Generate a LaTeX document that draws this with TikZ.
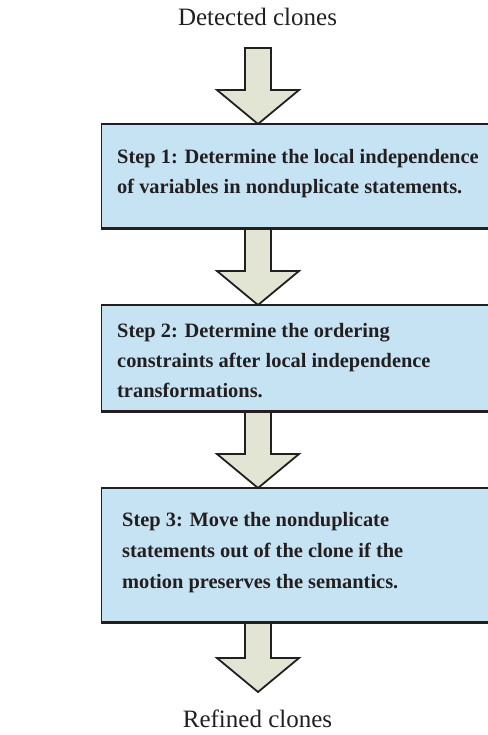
\documentclass[tikz,border=0pt]{standalone}
\usepackage{fontspec}
\setmainfont{Liberation Serif}
\usetikzlibrary{calc}

\definecolor{ink}{RGB}{35,31,32}
\definecolor{boxfill}{RGB}{198,227,244}
\definecolor{arrowfill}{RGB}{227,229,212}

\tikzset{
  flowlabel/.style={font=\fontsize{25}{30}\selectfont, text=ink, inner sep=0pt, anchor=base},
  stepbox/.style={fill=boxfill, draw=none, inner sep=0pt, anchor=north west, minimum width=420pt},
  steptext/.style={font=\fontsize{20.4}{30}\selectfont\bfseries, text=ink, inner sep=0pt,
                   anchor=north west, align=left},
  rim/.style={draw=ink, line width=2.6pt},
  side/.style={draw=ink, line width=1pt},
  fatarrow/.style={draw=ink, fill=arrowfill, line width=1.8pt, line join=miter},
}

% block arrow: shaft starts at the height of #1, tip at #2
\newcommand\blockarrow[2]{%
  \path[fatarrow] let \p1=(#1), \p2=(#2) in
    (\x2-13pt,\y1) -- (\x2+13pt,\y1) -- (\x2+13pt,\y2+34pt) -- (\x2+41pt,\y2+34pt)
    -- (\x2,\y2) -- (\x2-41pt,\y2+34pt) -- (\x2-13pt,\y2+34pt) -- cycle;}

\begin{document}
\begin{tikzpicture}[x=1pt, y=-1pt]
  \useasboundingbox (0,0) rectangle (487,735);

  % input / output labels
  \node[flowlabel] (in)  at (257.5,26)  {Detected clones};
  \node[flowlabel] (out) at (257.5,727) {Refined clones};

  % step boxes (open on the right)
  \node[stepbox, minimum height=104pt] (b1) at (101,124) {};
  \node[stepbox, minimum height=106pt] (b2) at (101,305) {};
  \node[stepbox, minimum height=134pt] (b3) at (101,488) {};

  % arrow end points
  \coordinate (x0) at (258,48);
  \coordinate (x4) at (258,692);

  % block arrows
  \blockarrow{x0}{b1.north -| x0}
  \blockarrow{b1.south -| x0}{b2.north -| x0}
  \blockarrow{b2.south -| x0}{b3.north -| x0}
  \blockarrow{b3.south -| x0}{x4}

  % box rims
  \foreach \b in {b1,b2,b3} {
    \draw[rim] (\b.north west) -- (\b.north east);
    \draw[rim] (\b.south west) -- (\b.south east);
    \draw[side] (\b.north west) -- (\b.south west);
  }

  % step texts
  \node[steptext] (s1) at (117,149.5)
    {Step 1: Determine the local independence\\of variables in nonduplicate statements.};
  \node[steptext] (s2) at (117,323.5)
    {Step 2: Determine the ordering\\constraints after local independence\\transformations.};
  \node[steptext, font=\fontsize{20.4}{31}\selectfont\bfseries] (s3) at (122,512.5)
    {Step 3: Move the nonduplicate\\statements out of the clone if the\\motion preserves the semantics.};
\end{tikzpicture}
\end{document}
